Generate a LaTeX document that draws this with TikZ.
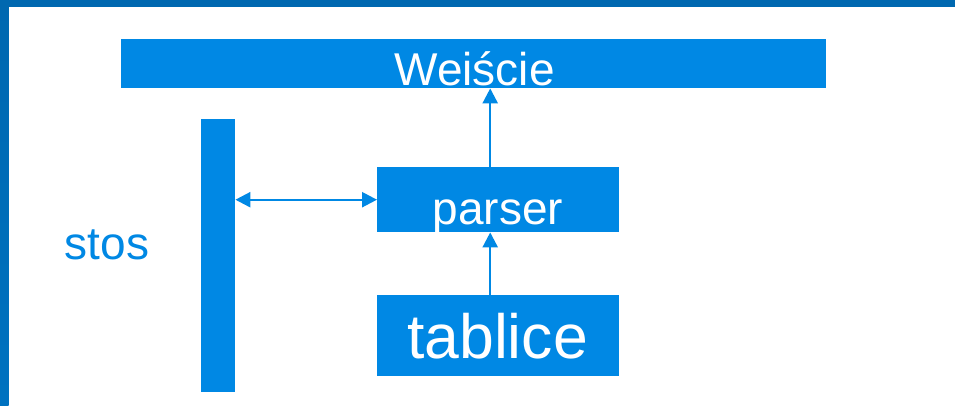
\documentclass[tikz,border=0pt]{standalone}
\usepackage{fontspec}
\setmainfont{Liberation Sans}
\usetikzlibrary{arrows.meta}
\definecolor{boxblue}{RGB}{0,136,228}
\definecolor{frameblue}{RGB}{0,104,176}
\definecolor{framelow}{RGB}{0,114,192}
\tikzset{
  block/.style={fill=boxblue, draw=none, inner sep=0pt, anchor=north west},
  label/.style={inner sep=0pt, anchor=base, text=white},
  arr/.style={draw=boxblue, line width=2.4pt,
    -{Triangle[width=15pt,length=15pt]}, shorten >=0pt},
  dblarr/.style={draw=boxblue, line width=2.4pt,
    {Triangle[width=15pt,length=15pt]}-{Triangle[width=15pt,length=15pt]}}
}
\begin{document}
\begin{tikzpicture}[x=1pt, y=-1pt]
  \useasboundingbox (0,0) rectangle (955,405);
  \fill[white] (0,0) rectangle (955,405);
  % slide frame
  \fill[frameblue] (0,0) rectangle (955,6.7);
  \shade[top color=frameblue, bottom color=framelow] (0,0) rectangle (8.7,405);

  % boxes
  \node[block, minimum width=705pt, minimum height=49pt] (weis) at (121,39) {};
  \node[block, minimum width=34pt, minimum height=273pt] (stack) at (201,119) {};
  \node[block, minimum width=242pt, minimum height=65pt] (parser) at (377,167) {};
  \node[block, minimum width=242pt, minimum height=81pt] (tabl) at (377,295) {};

  % texts
  \node[label, font=\fontsize{46}{50}\selectfont] (tweis) at (474.5,85) {Weiście};
  \node[label, font=\fontsize{46}{50}\selectfont] (tparser) at (498,224) {parser};
  \node[label, font=\fontsize{62.5}{66}\selectfont] (ttabl) at (497.5,358) {tablice};
  \node[label, text=boxblue, font=\fontsize{46}{50}\selectfont] (tstos) at (107,259) {stos};

  % connectors
  \draw[arr] ([xshift=-8pt]parser.north) -- ([xshift=-8pt]parser.north |- weis.south);
  \draw[arr] ([xshift=-8pt]tabl.north) -- ([xshift=-8pt]tabl.north |- parser.south);
  \draw[dblarr] (parser.west -| stack.east) -- (parser.west);
\end{tikzpicture}
\end{document}
